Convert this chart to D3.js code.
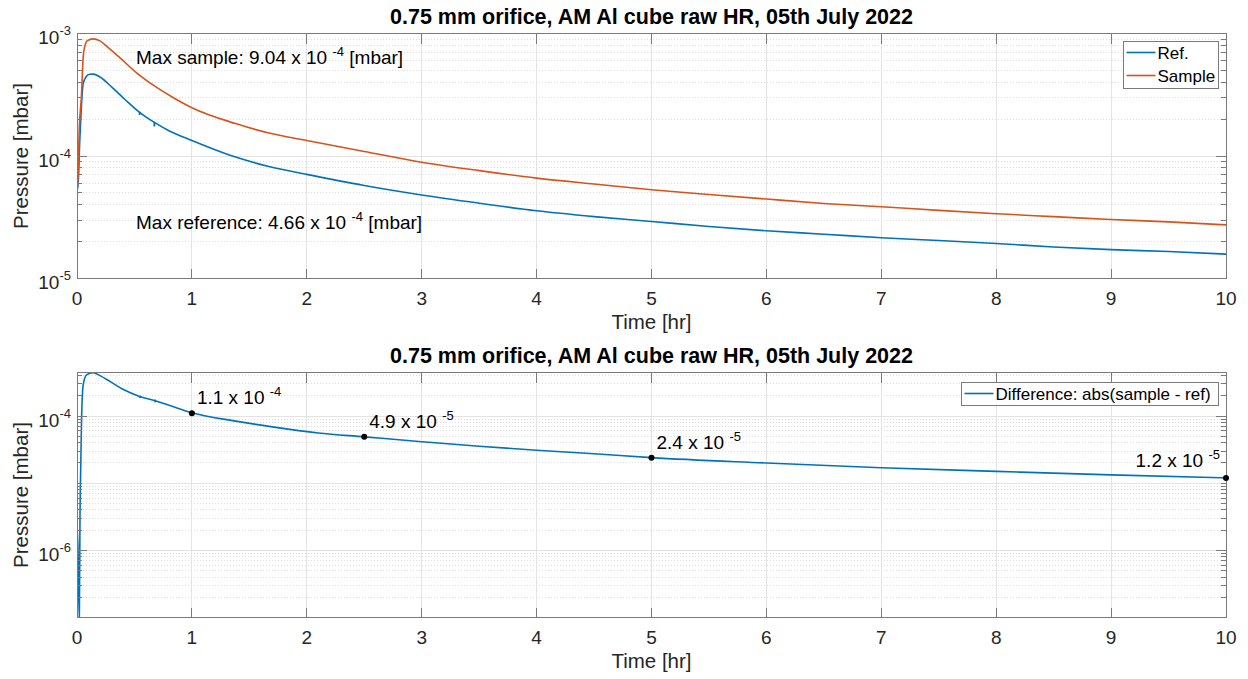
<!DOCTYPE html>
<html>
<head>
<meta charset="utf-8">
<script src="https://cdn.jsdelivr.net/npm/d3@7"></script>
<style>
  body { margin: 0; background: #fff; }
  svg { font-family: "Liberation Sans", Arial, Helvetica, sans-serif; }
  text { white-space: pre; }
</style>
</head>
<body>
<svg id="chart" width="1248" height="679"></svg>
<script>
// data (time in hours, pressure in mbar)
const refT = [0, 0.008, 0.024, 0.038, 0.054, 0.08, 0.11, 0.14, 0.2, 0.31, 0.42, 0.545,
  0.673, 0.8, 1, 1.38, 1.67, 2, 2.5, 3, 3.5, 4, 4.5, 5, 5.5, 6, 6.5, 7, 7.5, 8, 8.5, 9, 9.5, 10];
const refP = [6.0e-5, 5.4e-5, 1.34e-4, 2.51e-4, 3.9e-4, 4.45e-4, 4.65e-4, 4.66e-4, 4.42e-4, 3.6e-4, 2.88e-4, 2.27e-4,
  1.88e-4, 1.61e-4, 1.34e-4, 9.8e-5, 8.2e-5, 7.08e-5, 5.75e-5, 4.81e-5, 4.12e-5, 3.57e-5, 3.2e-5, 2.92e-5, 2.66e-5, 2.45e-5, 2.3e-5, 2.15e-5, 2.04e-5, 1.93e-5, 1.81e-5, 1.72e-5, 1.66e-5, 1.58e-5];
// short spikes in the reference trace: time, top, bottom
const refSpikeT = [0.545, 0.673];
const refSpikeHi = [2.3e-4, 1.9e-4];
const refSpikeLo = [2.16e-4, 1.74e-4];

const sampleT = [0, 0.006, 0.02, 0.038, 0.054, 0.067, 0.09, 0.14, 0.2, 0.27, 0.372, 0.516, 0.69, 0.85, 1,
  1.38, 1.67, 2, 2.5, 3, 3.5, 4, 4.5, 5, 5.5, 6, 6.5, 7, 7.5, 8, 8.5, 9, 9.5, 10];
const sampleP = [7.5e-5, 5.6e-5, 1.7e-4, 3.03e-4, 6.45e-4, 7.8e-4, 8.75e-4, 9.04e-4, 8.7e-4, 7.7e-4, 6.35e-4, 4.8e-4, 3.65e-4, 2.95e-4, 2.48e-4,
  1.84e-4, 1.54e-4, 1.34e-4, 1.09e-4, 8.9e-5, 7.6e-5, 6.6e-5, 5.9e-5, 5.3e-5, 4.85e-5, 4.45e-5, 4.1e-5, 3.85e-5, 3.6e-5, 3.38e-5, 3.2e-5, 3.03e-5, 2.9e-5, 2.74e-5];

const diffT = [0, 0.008, 0.02, 0.026, 0.033, 0.04, 0.054, 0.083, 0.14, 0.2, 0.29, 0.4, 0.55, 0.68, 0.8, 1,
  1.38, 1.7, 2.1, 2.5, 3, 3.5, 4, 4.5, 5, 6, 7, 8, 9, 10];
const diffP = [2.2e-6, 1.2e-6, 9e-8, 3e-6, 1.9e-5, 9.3e-5, 2.9e-4, 4.1e-4, 4.42e-4, 4.0e-4, 3.25e-4, 2.5e-4, 1.94e-4, 1.69e-4, 1.45e-4, 1.12e-4,
  8.4e-5, 6.9e-5, 5.6e-5, 4.9e-5, 4.15e-5, 3.55e-5, 3.1e-5, 2.75e-5, 2.4e-5, 2.0e-5, 1.7e-5, 1.5e-5, 1.33e-5, 1.2e-5];
const diffSpikeT = [0.0, 0.55, 0.68];
const diffSpikeHi = [2.8e-6, 2.0e-4, 1.76e-4];
const diffSpikeLo = [1.4e-6, 1.86e-4, 1.6e-4];

// marked points in the lower panel
const markT = [1, 2.5, 5, 10];
const markP = [1.1e-4, 4.9e-5, 2.4e-5, 1.2e-5];
const markMant = ["1.1", "4.9", "2.4", "1.2"];
const markExp = ["-4", "-5", "-5", "-5"];

// ticks
const xTicks = [0, 1, 2, 3, 4, 5, 6, 7, 8, 9, 10];
const topYLabelExps = [-5, -4, -3];
const botYLabelExps = [-6, -4];

const titleText = "0.75 mm orifice, AM Al cube raw HR, 05th July 2022";
const blue = "#0072BD", orange = "#D95319";

const svg = d3.select("#chart");
const L = 77, R = 1226;

function panel(o) {
  let x = d3.scaleLinear().domain([0, 10]).range([L, R]);
  let y = d3.scaleLog().domain(o.yDomain).range([o.bottom, o.top]);
  let g = svg.append("g");

  // log grid values
  let minors = [], decades = [];
  let e0 = Math.floor(Math.log10(o.yDomain[0])), e1 = Math.ceil(Math.log10(o.yDomain[1]));
  for (let e = e0; e <= e1; e++) {
    let dv = Math.pow(10, e);
    if (dv >= o.yDomain[0] * 0.999 && dv <= o.yDomain[1] * 1.001) decades.push(e);
    for (let k = 2; k <= 9; k++) {
      let v = k * dv;
      if (v > o.yDomain[0] && v < o.yDomain[1]) minors.push(v);
    }
  }

  let grid = g.append("g").attr("shape-rendering", "crispEdges");
  grid.selectAll(".ymin").data(minors).join("line")
    .attr("x1", L).attr("x2", R)
    .attr("y1", d => y(d)).attr("y2", d => y(d))
    .attr("stroke", "#dedede").attr("stroke-dasharray", "1,2");
  grid.selectAll(".ymaj").data(decades).join("line")
    .attr("x1", L).attr("x2", R)
    .attr("y1", d => y(Math.pow(10, d))).attr("y2", d => y(Math.pow(10, d)))
    .attr("stroke", "#e3e3e3");
  grid.selectAll(".xg").data(xTicks).join("line")
    .attr("x1", d => x(d)).attr("x2", d => x(d))
    .attr("y1", o.top).attr("y2", o.bottom)
    .attr("stroke", "#e3e3e3");

  // lines
  let clipId = "clip" + o.top;
  svg.append("clipPath").attr("id", clipId).append("rect")
    .attr("x", L).attr("y", o.top).attr("width", R - L).attr("height", o.bottom - o.top);
  let line = d3.line().x(d => x(d[0])).y(d => y(d[1])).curve(d3.curveMonotoneX);
  o.series.forEach(s => {
    let sg = g.append("g").attr("clip-path", `url(#${clipId})`);
    sg.append("path")
      .datum(d3.zip(s.t, s.p))
      .attr("d", line)
      .attr("fill", "none")
      .attr("stroke", s.color)
      .attr("stroke-width", 1.6);
    if (s.spikeT) {
      sg.selectAll(".spike").data(d3.zip(s.spikeT, s.spikeHi, s.spikeLo)).join("line")
        .attr("x1", d => x(d[0])).attr("x2", d => x(d[0]))
        .attr("y1", d => y(d[1])).attr("y2", d => y(d[2]))
        .attr("stroke", s.color).attr("stroke-width", 1.8);
    }
  });

  // box + ticks
  let ax = g.append("g").attr("shape-rendering", "crispEdges").attr("stroke", "#7a7a7a");
  ax.append("rect").attr("x", L).attr("y", o.top).attr("width", R - L).attr("height", o.bottom - o.top)
    .attr("fill", "none");
  xTicks.forEach(t => {
    ax.append("line").attr("x1", x(t)).attr("x2", x(t)).attr("y1", o.bottom).attr("y2", o.bottom - 10);
    ax.append("line").attr("x1", x(t)).attr("x2", x(t)).attr("y1", o.top).attr("y2", o.top + 10);
  });
  let yt = minors.map(v => [v, 5]).concat(decades.map(e => [Math.pow(10, e), o.labelExps.includes(e) ? 10 : 5]));
  yt.forEach(([v, len]) => {
    ax.append("line").attr("x1", L).attr("x2", L + len).attr("y1", y(v)).attr("y2", y(v));
    ax.append("line").attr("x1", R).attr("x2", R - len).attr("y1", y(v)).attr("y2", y(v));
  });

  // tick labels
  g.selectAll(".xl").data(xTicks).join("text")
    .attr("x", d => x(d)).attr("y", o.bottom + 26)
    .attr("text-anchor", "middle").attr("font-size", 19).attr("fill", "#262626")
    .text(d => d);
  o.labelExps.forEach(e => {
    let t = g.append("text").attr("x", 71).attr("y", y(Math.pow(10, e)) + 10.5)
      .attr("text-anchor", "end").attr("font-size", 19).attr("fill", "#262626");
    t.append("tspan").text("10");
    t.append("tspan").attr("dy", -9).attr("font-size", 13).text(String(e));
  });

  // titles
  g.append("text").attr("x", (L + R) / 2).attr("y", o.top - 9.5)
    .attr("text-anchor", "middle").attr("font-size", 21.5).attr("font-weight", "bold")
    .text(titleText);
  g.append("text").attr("x", (L + R) / 2).attr("y", o.bottom + 50)
    .attr("text-anchor", "middle").attr("font-size", 20.5).attr("fill", "#262626")
    .text("Time [hr]");
  g.append("text")
    .attr("transform", `translate(28,${(o.top + o.bottom) / 2}) rotate(-90)`)
    .attr("text-anchor", "middle").attr("font-size", 20.5).attr("fill", "#262626")
    .text("Pressure [mbar]");

  // legend
  let lg = o.legend;
  g.append("rect").attr("x", lg.x).attr("y", lg.y).attr("width", lg.w).attr("height", lg.h)
    .attr("fill", "#fff").attr("stroke", "#7a7a7a").attr("shape-rendering", "crispEdges");
  lg.items.forEach((it, i) => {
    let ry = lg.y + lg.rows[i];
    g.append("line").attr("x1", lg.x + 3).attr("x2", lg.x + 32).attr("y1", ry).attr("y2", ry)
      .attr("stroke", it.color).attr("stroke-width", 1.6);
    g.append("text").attr("x", lg.x + 34).attr("y", ry + 6.5).attr("font-size", 17)
      .text(it.label);
  });

  return {x, y, g};
}

function supText(g, px, py, before, exp, after, anchor) {
  let t = g.append("text").attr("x", px).attr("y", py).attr("font-size", 19)
    .attr("text-anchor", anchor || "start").attr("fill", "#000");
  t.append("tspan").text(before);
  t.append("tspan").attr("dy", -8).attr("font-size", 13).text(exp);
  if (after) t.append("tspan").attr("dy", 8).text(after);
  return t;
}

// upper panel
let p1 = panel({
  top: 33.5, bottom: 278.5, yDomain: [1e-5, 1e-3], labelExps: topYLabelExps,
  series: [
    {t: refT, p: refP, color: blue, spikeT: refSpikeT, spikeHi: refSpikeHi, spikeLo: refSpikeLo},
    {t: sampleT, p: sampleP, color: orange}
  ],
  legend: {x: 1123.5, y: 41.5, w: 95, h: 47, rows: [11, 34],
    items: [{label: "Ref.", color: blue}, {label: "Sample", color: orange}]}
});
supText(p1.g, 136, 64, "Max sample: 9.04 x 10 ", "-4", " [mbar]");
supText(p1.g, 136, 229, "Max reference: 4.66 x 10 ", "-4", " [mbar]");

// lower panel
let p2 = panel({
  top: 372.5, bottom: 617.5, yDomain: [1e-7, 4.45e-4], labelExps: botYLabelExps,
  series: [{t: diffT, p: diffP, color: blue, spikeT: diffSpikeT, spikeHi: diffSpikeHi, spikeLo: diffSpikeLo}],
  legend: {x: 961.5, y: 382.5, w: 257, h: 23, rows: [11],
    items: [{label: "Difference: abs(sample - ref)", color: blue}]}
});
markT.forEach((t, i) => {
  let px = p2.x(t), py = p2.y(markP[i]);
  p2.g.append("circle").attr("cx", px).attr("cy", py).attr("r", 3).attr("fill", "#000");
  if (t === 10) supText(p2.g, px - 6, py - 11, markMant[i] + " x 10 ", markExp[i], "", "end");
  else supText(p2.g, px + 5, py - 9, markMant[i] + " x 10 ", markExp[i], "");
});
</script>
</body>
</html>
